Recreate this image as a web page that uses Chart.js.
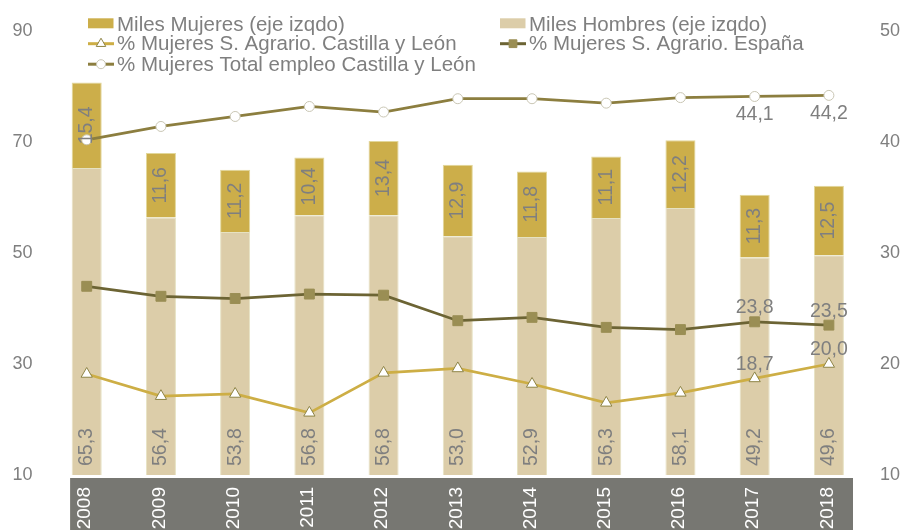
<!DOCTYPE html>
<html>
<head>
<meta charset="utf-8">
<script src="https://cdn.jsdelivr.net/npm/chart.js@4/dist/chart.umd.min.js"></script>
<style>
  html, body { margin: 0; padding: 0; background: #ffffff; }
  #wrap { width: 905px; height: 530px; position: relative; }
</style>
</head>
<body>
<div id="wrap"><canvas id="c" width="905" height="530"></canvas></div>
<script>
const years = ['2008','2009','2010','2011','2012','2013','2014','2015','2016','2017','2018'];
const milesMujeres = [15.4, 11.6, 11.2, 10.4, 13.4, 12.9, 11.8, 11.1, 12.2, 11.3, 12.5];
const milesHombres = [65.3, 56.4, 53.8, 56.8, 56.8, 53.0, 52.9, 56.3, 58.1, 49.2, 49.6];
const pctAgrarioCyL = [19.1, 17.1, 17.3, 15.6, 19.2, 19.6, 18.2, 16.5, 17.4, 18.7, 20.0];
const pctAgrarioEsp = [27.0, 26.1, 25.9, 26.3, 26.2, 23.9, 24.2, 23.3, 23.1, 23.8, 23.5];
const pctTotalCyL   = [40.2, 41.4, 42.3, 43.2, 42.7, 43.9, 43.9, 43.5, 44.0, 44.1, 44.2];
const leftTicks  = [10, 30, 50, 70, 90];
const rightTicks = [10, 20, 30, 40, 50];
const lineLabelFrom = 9; // line values are labelled only for the last two years

const FONT = '"Liberation Sans", Arial, sans-serif';
const GREY_TXT = '#7f7f7f';
const C_MUJ = '#CCAE4A';
const C_HOM = '#DCCDA9';
const C_ESP_LINE = '#6C6434';
const C_ESP_PT = '#9A8E54';
const C_TOT = '#8C7E3F';
const C_AGR = '#CDAE45';

const fmt = v => v.toFixed(1).replace('.', ',');

const bandPlugin = {
  id: 'band',
  beforeDraw(chart) {
    const ctx = chart.ctx, a = chart.chartArea;
    ctx.save();
    ctx.fillStyle = '#777772';
    ctx.fillRect(a.left + 20.5, a.bottom + 3, (a.right - 13) - (a.left + 20.5), chart.height - a.bottom - 3);
    ctx.restore();
  },
  afterDraw(chart) {
    const ctx = chart.ctx, a = chart.chartArea, xs = chart.scales.x;
    ctx.save();
    ctx.fillStyle = '#ffffff';
    ctx.font = '19px ' + FONT;
    ctx.textAlign = 'right';
    ctx.textBaseline = 'middle';
    years.forEach((y, i) => {
      const x = xs.getPixelForTick(i) - 1.5;
      ctx.save();
      ctx.translate(x, a.bottom + 12);
      ctx.rotate(-Math.PI / 2);
      ctx.fillText(y, 0, 0);
      ctx.restore();
    });
    ctx.restore();
  }
};

const labelPlugin = {
  id: 'vals',
  afterDatasetsDraw(chart) {
    const ctx = chart.ctx, a = chart.chartArea;
    ctx.save();
    ctx.fillStyle = GREY_TXT;
    ctx.font = '19.5px ' + FONT;
    chart.data.datasets.forEach((ds, di) => {
      const meta = chart.getDatasetMeta(di);
      meta.data.forEach((el, i) => {
        const v = ds.data[i];
        if (ds.label.startsWith('Miles Mujeres')) {
          const cy = (el.y + el.base) / 2;
          ctx.save();
          ctx.translate(el.x, cy);
          ctx.rotate(-Math.PI / 2);
          ctx.textAlign = 'center'; ctx.textBaseline = 'middle';
          ctx.fillText(fmt(v), 0, 0);
          ctx.restore();
        } else if (ds.label.startsWith('Miles Hombres')) {
          ctx.save();
          ctx.translate(el.x, a.bottom - 9);
          ctx.rotate(-Math.PI / 2);
          ctx.textAlign = 'left'; ctx.textBaseline = 'middle';
          ctx.fillText(fmt(v), 0, 0);
          ctx.restore();
        } else if (i >= lineLabelFrom) {
          ctx.textAlign = 'center'; ctx.textBaseline = 'middle';
          let dy = -14;
          if (ds.label.includes('Total')) dy = 18;
          ctx.fillText(fmt(v), el.x, el.y + dy);
        }
      });
    });
    ctx.restore();
  }
};

const legendPlugin = {
  id: 'customLegend',
  afterDraw(chart) {
    const ctx = chart.ctx;
    const items = [
      { ds: 1, x: 88, base: 30.7 },
      { ds: 0, x: 500, base: 30.7 },
      { ds: 2, x: 88, base: 50 },
      { ds: 3, x: 500, base: 50 },
      { ds: 4, x: 88, base: 70.5 }
    ];
    ctx.save();
    ctx.font = '20.5px ' + FONT;
    ctx.textBaseline = 'alphabetic';
    ctx.textAlign = 'left';
    items.forEach(it => {
      const ds = chart.data.datasets[it.ds];
      if (ds.type === 'bar') {
        const cy = it.base - 7.4;
        ctx.fillStyle = ds.backgroundColor;
        ctx.fillRect(it.x, cy - 5, 25.5, 10);
      } else {
        const cy = it.base - 6.3;
        ctx.strokeStyle = ds.borderColor;
        ctx.lineWidth = 3;
        ctx.beginPath(); ctx.moveTo(it.x, cy); ctx.lineTo(it.x + 26, cy); ctx.stroke();
        ctx.fillStyle = ds.pointBackgroundColor;
        ctx.strokeStyle = ds.pointBorderColor;
        ctx.lineWidth = ds.pointBorderWidth;
        const r = ds.pointStyle === 'rect' ? 5.5 : (ds.pointStyle === 'triangle' ? 5.5 : 4.5);
        Chart.helpers.drawPoint(ctx, { pointStyle: ds.pointStyle, rotation: 0, radius: r, borderWidth: ds.pointBorderWidth }, it.x + 13, cy);
      }
      ctx.fillStyle = GREY_TXT;
      ctx.fillText(ds.label, it.x + 29, it.base);
    });
    ctx.restore();
  }
};

new Chart(document.getElementById('c'), {
  data: {
    labels: years,
    datasets: [
      { type: 'bar', label: 'Miles Hombres (eje izqdo)', data: milesHombres, backgroundColor: C_HOM,
        borderColor: '#E6E2C2', borderWidth: 1, yAxisID: 'y', stack: 's', order: 3,
        categoryPercentage: 1, barPercentage: 0.405 },
      { type: 'bar', label: 'Miles Mujeres (eje izqdo)', data: milesMujeres, backgroundColor: C_MUJ,
        borderColor: '#E2D79A', borderWidth: 1, yAxisID: 'y', stack: 's', order: 3,
        categoryPercentage: 1, barPercentage: 0.405 },
      { type: 'line', label: '% Mujeres S. Agrario. Castilla y León', data: pctAgrarioCyL, yAxisID: 'y1',
        borderColor: C_AGR, borderWidth: 2.75, pointStyle: 'triangle', pointRadius: 6.5,
        pointBackgroundColor: '#ffffff', pointBorderColor: '#8E8446', pointBorderWidth: 1, tension: 0, order: 1 },
      { type: 'line', label: '% Mujeres S. Agrario. España', data: pctAgrarioEsp, yAxisID: 'y1',
        borderColor: C_ESP_LINE, borderWidth: 2.75, pointStyle: 'rect', pointRadius: 7,
        pointBackgroundColor: C_ESP_PT, pointBorderColor: C_ESP_PT, pointBorderWidth: 1, tension: 0, order: 1 },
      { type: 'line', label: '% Mujeres Total empleo Castilla y León', data: pctTotalCyL, yAxisID: 'y1',
        borderColor: C_TOT, borderWidth: 2.75, pointStyle: 'circle', pointRadius: 5,
        pointBackgroundColor: '#ffffff', pointBorderColor: '#C9C6B4', pointBorderWidth: 1, tension: 0, order: 1 }
    ]
  },
  options: {
    responsive: false,
    animation: false,
    layout: { padding: { top: 31, left: 0, right: 0, bottom: 0 } },
    plugins: { legend: { display: false }, tooltip: { enabled: false } },
    scales: {
      x: {
        stacked: true, offset: true,
        grid: { display: false, drawTicks: false }, border: { display: false },
        ticks: { display: false },
        afterFit(s) { s.height = 55; }
      },
      y: {
        position: 'left', stacked: true, min: 10, max: 90,
        grid: { display: false, drawTicks: false }, border: { display: false },
        afterBuildTicks(s) { s.ticks = leftTicks.map(v => ({ value: v })); },
        ticks: { color: GREY_TXT, font: { size: 18, family: FONT }, padding: 17 },
        afterFit(s) { s.width = 49.6; }
      },
      y1: {
        position: 'right', min: 10, max: 50,
        grid: { display: false, drawTicks: false }, border: { display: false },
        afterBuildTicks(s) { s.ticks = rightTicks.map(v => ({ value: v })); },
        ticks: { color: GREY_TXT, font: { size: 18, family: FONT }, padding: 14 },
        afterFit(s) { s.width = 39; }
      }
    }
  },
  plugins: [bandPlugin, labelPlugin, legendPlugin]
});
</script>
</body>
</html>
